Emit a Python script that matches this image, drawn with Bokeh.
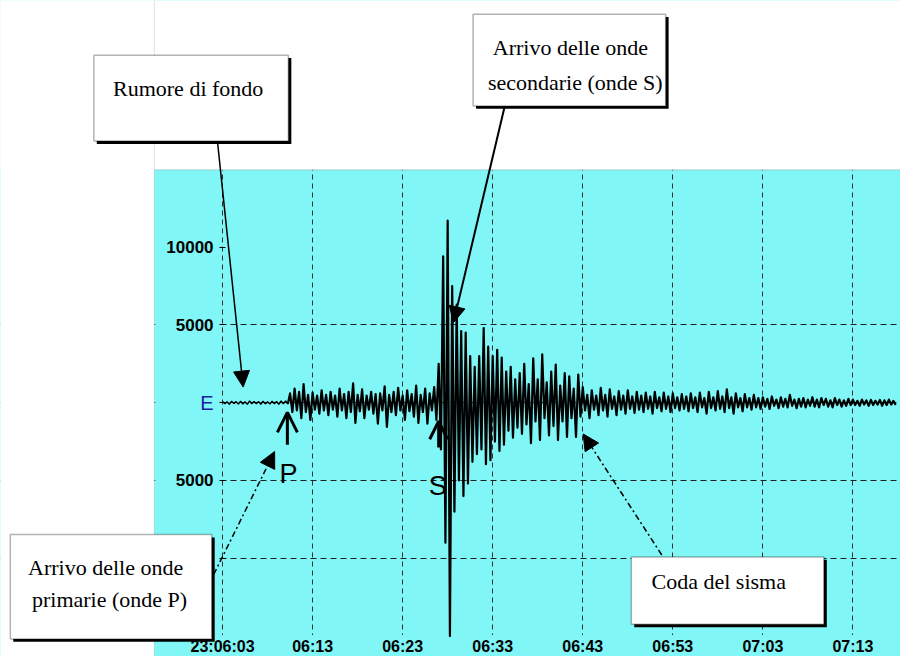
from bokeh.plotting import figure
from bokeh.models import (Range1d, LinearAxis, FixedTicker, Grid, BoxAnnotation,
                          Label, Arrow, NormalHead, OpenHead)
from bokeh.embed import file_html
from bokeh.resources import INLINE

# ---------------- data ----------------
x_tick_sec = [0, 10, 20, 30, 40, 50, 60, 70]
x_tick_labels = ["23:06:03", "06:13", "06:23", "06:33", "06:43", "06:53", "07:03", "07:13"]
y_tick_vals = [10000, 5000, -5000, -10000]
y_tick_labels = ["10000", "5000", "5000", "10000"]
y_grid_vals = [5000, 0, -5000, -10000]
baseline_label = "E"
p_arrival_s = 7.2
s_arrival_s = 24.0

sample_step_s = 0.5   # each sample: max then min of the trace within 0.5 s
env_hi = [80, 60, 100, 70, 90, 60, 110, 80, 70, 100, 60, 90, 80, 110, 120,
          600, 900, 700, 1200, 500, 650, 450, 800, 500, 700, 450, 900, 550, 700, 1250,
          500, 850, 450, 700, 550, 600, 1050, 500, 700, 950, 450, 800, 550, 1100, 500,
          900, 600, 1000, 2500,
          9400, 11700, 7500, 6300, 4600, 4500, 3000, 2300, 3000, 4800, 3600, 3000, 3400,
          2900, 2000, 2300, 1500, 1900,
          2500, 1200, 2850, 1500, 3100, 1300, 2000, 2450, 1100, 1900, 1700, 900, 1800,
          1000, 500, 800, 450, 950, 500, 850, 400, 750, 450, 800, 400, 700, 450, 650,
          400, 700, 350, 650, 400,
          600, 350, 550, 400, 600, 350, 650, 300, 700, 350, 750, 400, 850, 350, 600,
          300, 550, 300, 500, 300,
          350, 250, 400, 200, 350, 250, 500, 200, 250, 300, 200, 350, 200, 300, 250,
          150, 300, 200, 150, 250,
          200, 120, 200, 150, 180, 120, 180, 150, 200, 120]
env_lo = [-70, -100, -60, -90, -80, -110, -70, -60, -100, -80, -90, -70, -100, -80, -90,
          -600, -500, -1000, -600, -1100, -450, -700, -500, -800, -450, -900, -500, -1000,
          -600, -1300, -550, -1000, -450, -700, -1350, -500, -1550, -600, -800, -500,
          -1100, -550, -900, -1300, -600, -1350, -500, -1100, -3000,
          -9000, -15000, -7000, -5000, -6000, -5200, -3800, -3300, -3000, -3950, -3700,
          -2500, -3100, -2700, -1800, -2250, -1600, -2000,
          -1400, -2600, -1200, -2400, -1000, -2100, -1500, -2400, -1200, -2200, -1000,
          -2200, -900,
          -500, -1000, -450, -800, -500, -900, -400, -800, -450, -700, -400, -650, -450,
          -600, -400, -700, -350, -550, -400, -600,
          -350, -500, -400, -550, -350, -600, -300, -700, -350, -500, -400, -600, -350,
          -700, -300, -550, -300, -450, -300, -400,
          -250, -400, -200, -350, -250, -300, -200, -350, -250, -300, -200, -250, -300,
          -150, -250, -300, -150, -250, -200, -150,
          -150, -200, -120, -200, -150, -120, -200, -150, -120, -150]

# ---------------- layout helpers (reference pixel -> data) ----------------
T0_PX, PX_PER_S = 226.0, 9.165
V0_PX, PX_PER_UNIT = 412.0, 79.7 / 5000.0
REF_W, REF_H = 916, 672


def tx(px):
    return (px - T0_PX) / PX_PER_S


def vy(py):
    return (V0_PX - py) / PX_PER_UNIT


CYAN = "#80f6f6"
FONT_AX = "Liberation Sans"
FONT_TXT = "Liberation Serif"

p = figure(width=900, height=656, title=None,
           x_range=Range1d(tx(0), tx(REF_W)), y_range=Range1d(vy(REF_H), vy(0)),
           x_axis_type=None, y_axis_type=None, toolbar_location=None,
           output_backend="svg", min_border=0, outline_line_color=None,
           background_fill_color=CYAN, border_fill_color="white")

# grids
xg = Grid(dimension=0, ticker=FixedTicker(ticks=x_tick_sec),
          grid_line_color="#303030", grid_line_dash="5 4", grid_line_width=1)
yg = Grid(dimension=1, ticker=FixedTicker(ticks=y_grid_vals),
          grid_line_color="#202020", grid_line_dash="6 4", grid_line_width=1.2)
p.add_layout(xg)
p.add_layout(yg)

# covers (white page outside the cyan chart area, cyan label gutters)
far_l, far_r, far_t, far_b = tx(-60), tx(1000), vy(-60), vy(760)
p.add_layout(BoxAnnotation(left=far_l, right=far_r, top=far_t, bottom=vy(173.5),
                           fill_color="white", fill_alpha=1, line_color="#8a8a8a",
                           line_width=1.2, level="underlay"))
p.add_layout(BoxAnnotation(left=far_l, right=tx(156.5), top=far_t, bottom=far_b,
                           fill_color="white", fill_alpha=1, line_color="#9a9a9a",
                           line_width=1, level="underlay"))
p.add_layout(BoxAnnotation(left=tx(157.5), right=tx(224.5), top=vy(174.5), bottom=far_b,
                           fill_color=CYAN, fill_alpha=1, line_color=None, level="underlay"))
p.add_layout(BoxAnnotation(left=tx(157.5), right=far_r, top=vy(650), bottom=far_b,
                           fill_color=CYAN, fill_alpha=1, line_color=None, level="underlay"))

# seismogram trace (max/min per sample drawn as a zig-zag)
pre_t, pre_v, post_t, post_v = [], [], [], []
for i, (hi, lo) in enumerate(zip(env_hi, env_lo)):
    t = i * sample_step_s
    if t < p_arrival_s:
        pre_t += [t, t + sample_step_s / 2]
        pre_v += [hi, lo]
    else:
        if not post_t and pre_t:
            post_t.append(pre_t[-1])
            post_v.append(pre_v[-1])
        post_t += [t, t + sample_step_s / 2]
        post_v += [hi, lo]
p.line(pre_t, pre_v, color="black", line_width=1.4)
p.line(post_t, post_v, color="black", line_width=2.2, line_join="round")

# axes
yax = LinearAxis(fixed_location=0, ticker=FixedTicker(ticks=y_tick_vals),
                 major_label_overrides={v: s for v, s in zip(y_tick_vals, y_tick_labels)},
                 axis_line_color=None, major_tick_in=3, major_tick_out=3,
                 major_tick_line_color="black", minor_tick_line_color=None,
                 major_label_standoff=6, major_label_text_font=FONT_AX,
                 major_label_text_font_style="bold", major_label_text_font_size="17px",
                 major_label_text_color="black")
p.add_layout(yax, "left")
eax = LinearAxis(fixed_location=0, ticker=FixedTicker(ticks=[0]),
                 major_label_overrides={0: baseline_label},
                 axis_line_color=None, major_tick_in=3, major_tick_out=3,
                 major_tick_line_color="black", minor_tick_line_color=None,
                 major_label_standoff=6, major_label_text_font=FONT_AX,
                 major_label_text_font_size="20px", major_label_text_color="#1a22a0")
p.add_layout(eax, "left")
xax = LinearAxis(fixed_location=vy(652), ticker=FixedTicker(ticks=x_tick_sec),
                 major_label_overrides={v: s for v, s in zip(x_tick_sec, x_tick_labels)},
                 axis_line_color=None, major_tick_line_color=None, minor_tick_line_color=None,
                 major_tick_in=0, major_tick_out=0, major_label_standoff=1,
                 major_label_text_font=FONT_AX, major_label_text_font_style="bold",
                 major_label_text_font_size="16px", major_label_text_color="black")
p.add_layout(xax, "below")

# P / S arrival markers
p.add_layout(Arrow(end=OpenHead(size=20, line_width=3, line_color="black"),
                   x_start=p_arrival_s, y_start=vy(455), x_end=p_arrival_s, y_end=vy(422),
                   line_width=3, line_color="black"))
p.add_layout(Arrow(end=OpenHead(size=18, line_width=3, line_color="black"),
                   x_start=s_arrival_s, y_start=vy(458), x_end=s_arrival_s, y_end=vy(431),
                   line_width=3, line_color="black"))
p.add_layout(Label(x=tx(293), y=vy(485), text="P", text_align="center",
                   text_baseline="alphabetic", text_font=FONT_AX, text_font_size="27px",
                   text_color="black"))
p.add_layout(Label(x=tx(445), y=vy(497), text="S", text_align="center",
                   text_baseline="alphabetic", text_font=FONT_AX, text_font_size="27px",
                   text_color="black"))


# callout boxes
def callout(x0, y0, x1, y1, lines):
    p.add_layout(BoxAnnotation(left=tx(x0 + 3), right=tx(x1 + 3), top=vy(y0 + 3),
                               bottom=vy(y1 + 3), fill_color="black", fill_alpha=1,
                               line_color=None))
    p.add_layout(BoxAnnotation(left=tx(x0), right=tx(x1), top=vy(y0), bottom=vy(y1),
                               fill_color="white", fill_alpha=1, line_color="black",
                               line_width=1.5))
    for (cx, base, txt) in lines:
        p.add_layout(Label(x=tx(cx), y=vy(base), text=txt, text_align="center",
                           text_baseline="alphabetic", text_font=FONT_TXT,
                           text_font_size="22px", text_color="black"))


callout(95, 56, 293, 144, [(191, 90, "Rumore di fondo")])
callout(481, 14, 677, 108, [(580, 48, "Arrivo delle onde"),
                            (585, 84, "secondarie (onde S)")])
callout(10, 547, 215, 654, [(107, 581, "Arrivo delle onde"),
                            (111, 614, "primarie (onde P)")])
callout(642, 570, 838, 639, [(731, 595, "Coda del sisma")])


# callout arrows
def pointer(x0, y0, x1, y1, dash=None, width=1.5):
    kw = dict(line_dash=dash) if dash else {}
    p.add_layout(Arrow(end=NormalHead(size=16, fill_color="black", line_color="black"),
                       x_start=tx(x0), y_start=vy(y0), x_end=tx(x1), y_end=vy(y1),
                       line_width=width, line_color="black", **kw))


pointer(221, 146, 247, 396)
pointer(513, 109, 461, 330, width=2)
pointer(217, 588, 279, 462, dash="6 3 2 3")
pointer(673, 568, 593, 444, dash="6 3 2 3")

open("out.html", "w").write(file_html(p, INLINE))
